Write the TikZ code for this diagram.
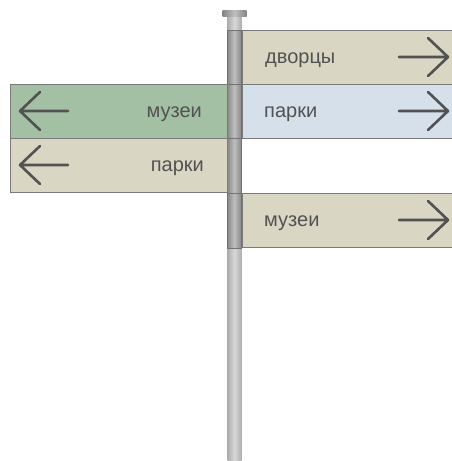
\documentclass[tikz,border=0pt]{standalone}
\usepackage{fontspec}
\setmainfont{Liberation Sans}
\begin{document}
\begin{tikzpicture}[x=1pt,y=-1pt,
  sign/.style={draw=black!52, line width=0.8pt, minimum height=54pt, inner sep=0pt, anchor=north west},
  lbl/.style={text=black!68, font=\fontsize{20}{24}\selectfont, inner sep=0pt},
  arr/.style={draw=black!68, line width=2.6pt, line cap=round, line join=round},
  pole/.style={left color=black!48, right color=black!48, middle color=black!25},
  collar/.style={pole, draw=black!55, line width=0.6pt},
  polel/.style={left color=black!32, right color=black!32, middle color=black!15, draw=none}]
\useasboundingbox (0,0) rectangle (451,461);
\definecolor{beige}{HTML}{D9D6C3}
\definecolor{sgreen}{HTML}{A4C0A4}
\definecolor{sblue}{HTML}{D5E0EB}
% pole
\path[polel] (227.5,247) rectangle (241.5,461);
\path[polel] (227.5,16) rectangle (241.5,30);
\path[pole] (222.5,10) rectangle (246.5,16);
\path[collar] (227,30) rectangle (241.5,84);
\path[collar] (227,84) rectangle (241.5,138);
\path[collar] (227,138) rectangle (241.5,193);
\path[collar] (227,193) rectangle (241.5,248);
% right signs
\node[sign, fill=beige, minimum width=212pt] (s1) at (241.5,30) {};
\node[sign, fill=sblue, minimum width=212pt] (s2) at (241.5,84) {};
\node[sign, fill=beige, minimum width=212pt] (s3) at (241.5,193) {};
% left signs
\node[sign, fill=sgreen, minimum width=217pt] (l1) at (10,84) {};
\node[sign, fill=beige, minimum width=217pt] (l2) at (10,138) {};
% texts
\node[lbl, anchor=base west] (t1) at (265,63) {дворцы};
\node[lbl, anchor=base west] (t2) at (264,117) {парки};
\node[lbl, anchor=base west] (t3) at (264,226) {музеи};
\node[lbl, anchor=base east] (t4) at (202,117) {музеи};
\node[lbl, anchor=base east] (t5) at (204,171) {парки};
% arrows
\draw[arr] (399,57) -- (448,57) (428,38) -- (448,57) -- (428,76);
\draw[arr] (399,111) -- (448,111) (428,92) -- (448,111) -- (428,130);
\draw[arr] (399,220) -- (448,220) (428,201) -- (448,220) -- (428,239);
\draw[arr] (68,111) -- (20,111) (40,92) -- (20,111) -- (40,130);
\draw[arr] (68,165) -- (20,165) (40,146) -- (20,165) -- (40,184);
\end{tikzpicture}
\end{document}
